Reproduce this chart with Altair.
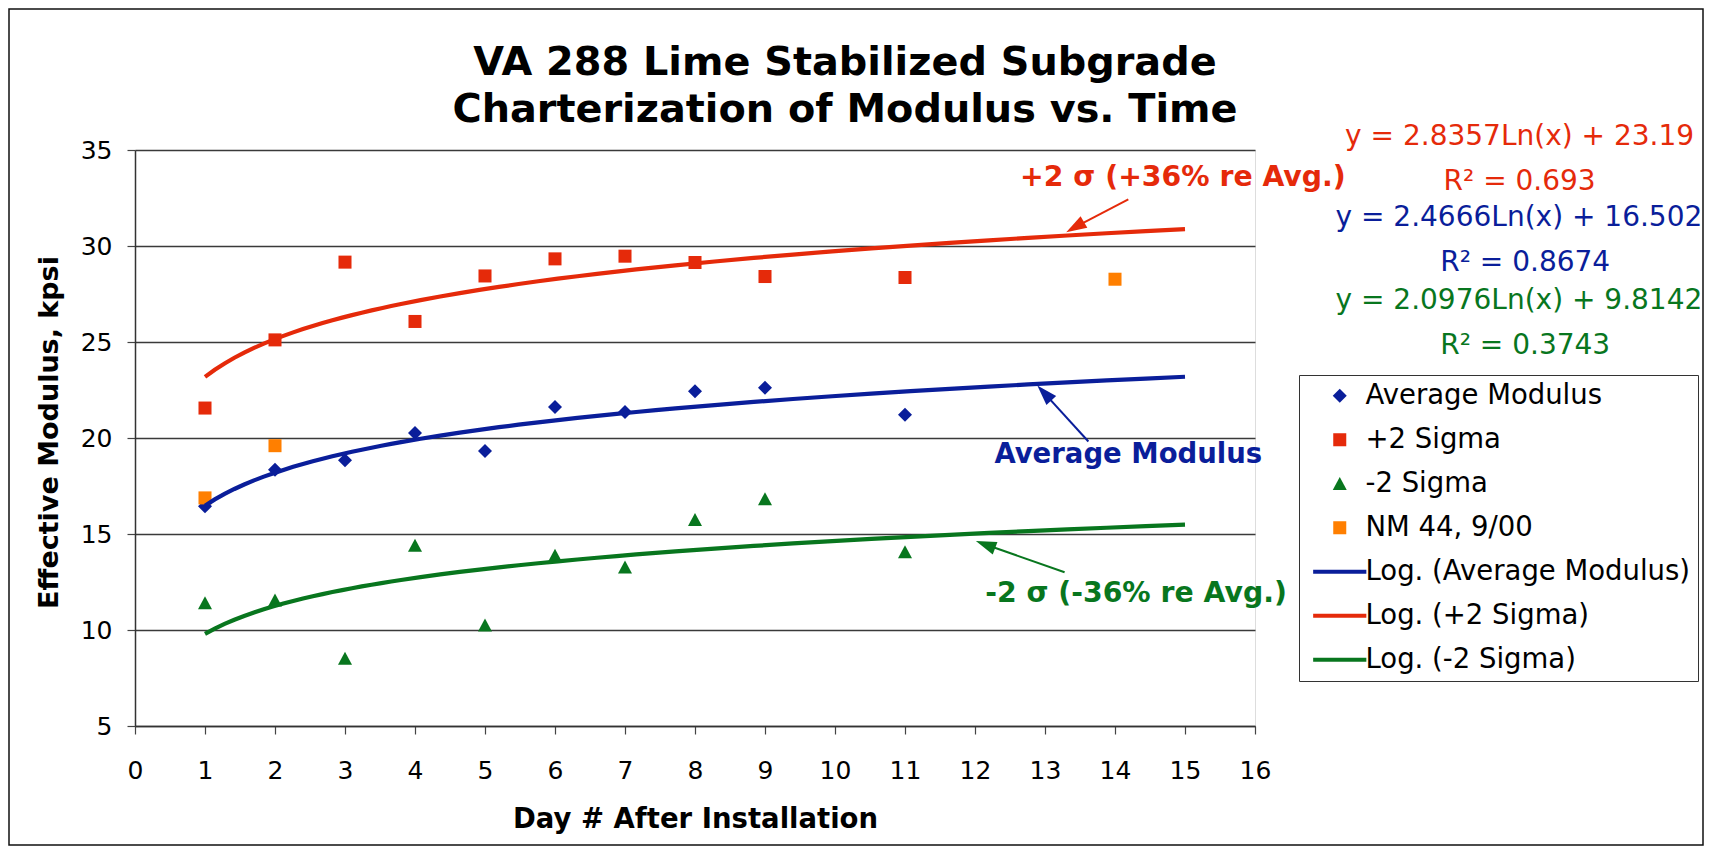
import altair as alt
import pandas as pd

# ---------------- data ----------------
days = [1, 2, 3, 4, 5, 6, 7, 8, 9, 11]
avg_modulus = [16.44, 18.35, 18.84, 20.26, 19.32, 21.61, 21.35, 22.44, 22.62, 21.21]
plus2_sigma = [21.56, 25.11, 29.16, 26.07, 28.44, 29.33, 29.47, 29.14, 28.41, 28.36]
minus2_sigma = [11.41, 11.55, 8.52, 14.40, 10.25, 13.88, 13.27, 15.75, 16.83, 14.07]
nm44_days = [1, 2, 14]
nm44_values = [16.88, 19.60, 28.27]

series_names = ["Average Modulus", "+2 Sigma", "-2 Sigma", "NM 44, 9/00",
                "Log. (Average Modulus)", "Log. (+2 Sigma)", "Log. (-2 Sigma)"]
trend_names = ["Log. (Average Modulus)", "Log. (+2 Sigma)", "Log. (-2 Sigma)"]

BLUE = "#0A1E9A"
RED = "#E52A0A"
GREEN = "#08761E"
ORANGE = "#FF7F00"
series_colors = [BLUE, RED, GREEN, ORANGE, BLUE, RED, GREEN]

# marker shapes (custom paths, unit = sqrt(size)/2)
DIAMOND = "M0,-1L1,0L0,1L-1,0Z"
SQUARE = "M-0.93,-0.93L0.93,-0.93L0.93,0.93L-0.93,0.93Z"
TRIANGLE = "M0,-0.95L1,0.9L-1,0.9Z"
LINE = "M-3.8,-0.3L3.8,-0.3L3.8,0.3L-3.8,0.3Z"
series_shapes = [DIAMOND, SQUARE, TRIANGLE, SQUARE, LINE, LINE, LINE]

x_ticks = list(range(0, 17))
y_ticks = [5, 10, 15, 20, 25, 30, 35]

eq_text = ["y = 2.8357Ln(x) + 23.19", "R² = 0.693",
           "y = 2.4666Ln(x) + 16.502", "R² = 0.8674",
           "y = 2.0976Ln(x) + 9.8142", "R² = 0.3743"]
eq_x = [19.78, 19.78, 19.77, 19.86, 19.77, 19.86]
eq_y = [35.69, 33.35, 31.45, 29.10, 27.11, 24.77]
eq_color = [RED, RED, BLUE, BLUE, GREEN, GREEN]

ann_text = ["+2 σ (+36% re Avg.)", "Average Modulus", "-2 σ (-36% re Avg.)"]
ann_x = [14.97, 14.19, 14.30]
ann_y = [33.54, 19.13, 11.85]
ann_size = [28.3, 27.5, 28.3]
ann_color = [RED, BLUE, GREEN]

arrow_tail_x = [14.19, 13.62, 13.28]
arrow_tail_y = [32.43, 19.82, 13.01]
arrow_head_x = [13.43, 12.99, 12.15]
arrow_head_y = [30.98, 22.34, 14.45]
arrow_angle = [239.7, 316.9, 290.4]
arrow_color = [RED, BLUE, GREEN]

# ---------------- tables ----------------
rows = []
for name, trend, vals in [("Average Modulus", trend_names[0], avg_modulus),
                          ("+2 Sigma", trend_names[1], plus2_sigma),
                          ("-2 Sigma", trend_names[2], minus2_sigma)]:
    for d, v in zip(days, vals):
        rows.append({"series": name, "trend": trend, "day": d, "value": v})
for d, v in zip(nm44_days, nm44_values):
    rows.append({"series": "NM 44, 9/00", "trend": "none", "day": d, "value": v})
df = pd.DataFrame(rows)

eq_df = pd.DataFrame({"text": eq_text, "x": eq_x, "y": eq_y, "color": eq_color})
ann_df = pd.DataFrame({"text": ann_text, "x": ann_x, "y": ann_y,
                       "size": ann_size, "color": ann_color})
arrow_df = pd.DataFrame({"x": arrow_tail_x, "y": arrow_tail_y,
                         "x2": arrow_head_x, "y2": arrow_head_y,
                         "angle": arrow_angle, "color": arrow_color})

FONT = "DejaVu Sans"

xscale = alt.Scale(domain=[0, 16], nice=False, zero=False)
yscale = alt.Scale(domain=[5, 35], nice=False, zero=False)

xaxis = alt.Axis(values=x_ticks, format="d", title="Day # After Installation", grid=False,
                 tickSize=8, tickColor="#444", tickWidth=1.2,
                 domainColor="#333", domainWidth=1.5,
                 labelFont=FONT, labelFontSize=25, labelColor="black",
                 labelPadding=24, labelFlush=False, labelOverlap=False,
                 titleFont=FONT, titleFontSize=27.5, titleFontWeight="bold",
                 titleColor="black", titleX=560, titleY=93,
                 titleBaseline="middle", titleAlign="center")
yaxis = alt.Axis(values=y_ticks, format="d", title="Effective Modulus, kpsi", grid=True,
                 gridColor="#3a3a3a", gridWidth=1.3,
                 tickSize=8, tickColor="#444", tickWidth=1.2,
                 domainColor="#333", domainWidth=1.5,
                 labelFont=FONT, labelFontSize=25, labelColor="black",
                 labelPadding=15, labelFlush=False,
                 titleFont=FONT, titleFontSize=27, titleFontWeight="bold",
                 titleColor="black", titleX=-86, titleY=282,
                 titleBaseline="middle", titleAlign="center", titleAngle=270)

legend = alt.Legend(title=None, orient="none", legendX=1164, legendY=225,
                    padding=7, strokeColor="#333", fillColor="white",
                    labelFont=FONT, labelFontSize=27.5, labelColor="black",
                    labelLimit=600, symbolSize=196, symbolStrokeWidth=0,
                    symbolOpacity=1, symbolOffset=20, labelOffset=12,
                    rowPadding=15)

color_scale = alt.Scale(domain=series_names, range=series_colors)
shape_scale = alt.Scale(domain=series_names, range=series_shapes)

points = alt.Chart(df).mark_point(filled=True, size=196, opacity=1).encode(
    x=alt.X("day:Q", scale=xscale, axis=xaxis),
    y=alt.Y("value:Q", scale=yscale, axis=yaxis),
    color=alt.Color("series:N", scale=color_scale, legend=legend),
    shape=alt.Shape("series:N", scale=shape_scale, legend=legend),
)

lines = alt.Chart(df).transform_filter(
    "datum.trend != 'none'"
).transform_regression(
    "day", "value", method="log", groupby=["trend"], extent=[1, 15]
).transform_calculate(
    series="datum.trend"
).mark_line(strokeWidth=4.2, strokeCap="butt").encode(
    x="day:Q", y="value:Q",
    color=alt.Color("series:N", legend=None),
)

arrow_shafts = alt.Chart(arrow_df).mark_rule(strokeWidth=2).encode(
    x="x:Q", y="y:Q", x2="x2:Q", y2="y2:Q",
    color=alt.Color("color:N", scale=None),
)
arrow_heads = alt.Chart(arrow_df).mark_point(
    filled=True, size=420, opacity=1, shape="M0,-1L0.65,1L-0.65,1Z"
).encode(
    x="x2:Q", y="y2:Q", angle=alt.Angle("angle:Q", scale=None),
    color=alt.Color("color:N", scale=None),
)

ann = alt.Chart(ann_df).mark_text(font=FONT, fontWeight="bold",
                                  align="center", baseline="middle").encode(
    x="x:Q", y="y:Q", text="text:N", size=alt.Size("size:Q", scale=None),
    color=alt.Color("color:N", scale=None),
)
eqs = alt.Chart(eq_df).mark_text(font=FONT, fontSize=28, align="center",
                                 baseline="middle").encode(
    x="x:Q", y="y:Q", text="text:N", color=alt.Color("color:N", scale=None),
)

border = alt.Chart(pd.DataFrame({"a": [0]})).mark_rect(
    fill="transparent", stroke="#111", strokeWidth=1.5
).encode(x=alt.value(-126), x2=alt.value(1568), y=alt.value(-141), y2=alt.value(695))

chart = alt.layer(points, lines, arrow_shafts, arrow_heads, ann, eqs, border).properties(
    width=1120, height=576,
    padding={"left": 127, "top": 142, "right": 449, "bottom": 120},
    autosize=alt.AutoSizeParams(type="none"),
    title=alt.TitleParams(
        ["VA 288 Lime Stabilized Subgrade", "Charterization of Modulus vs. Time"],
        font=FONT, fontSize=39.8, fontWeight="bold", color="black",
        anchor="middle", frame="group", dx=150, dy=123, offset=0, lineHeight=47),
).configure_view(
    fill="#CBCBCB", stroke="#9C9C9C", strokeWidth=2
).configure(background="white")

chart.save("out.html", embed_options={"renderer": "svg", "actions": False})
